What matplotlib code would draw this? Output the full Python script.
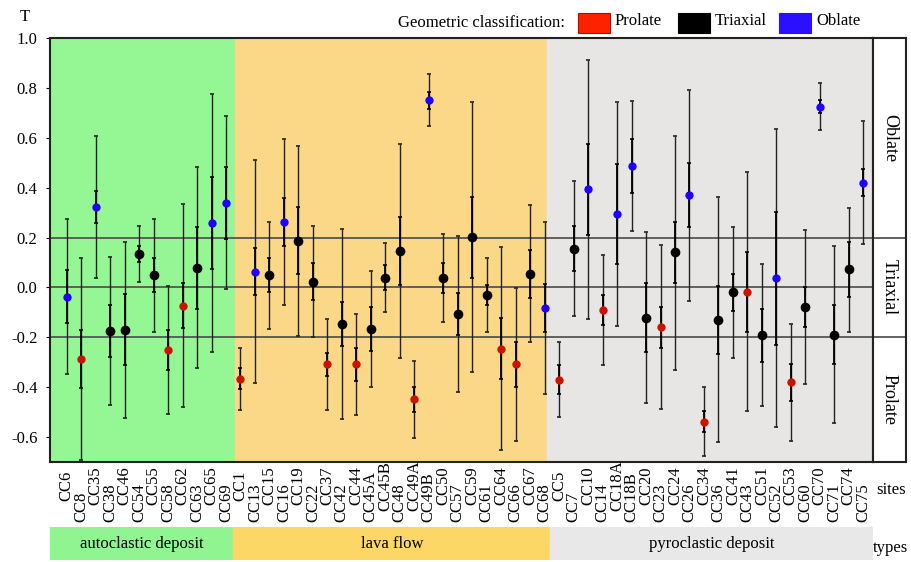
import numpy as np
import matplotlib
matplotlib.use("Agg")
import matplotlib.pyplot as plt
from matplotlib.patches import Rectangle

plt.rcParams['font.family'] = ['Liberation Serif', 'DejaVu Serif']

# sites, grouped by deposit type
sites_auto = ['CC6', 'CC8', 'CC35', 'CC38', 'CC46', 'CC54', 'CC55', 'CC58', 'CC62', 'CC63', 'CC65', 'CC69']
sites_lava = ['CC1', 'CC13', 'CC15', 'CC16', 'CC19', 'CC22', 'CC37', 'CC42', 'CC44', 'CC45A', 'CC45B',
              'CC48', 'CC49A', 'CC49B', 'CC50', 'CC57', 'CC59', 'CC61', 'CC64', 'CC66', 'CC67', 'CC68']
sites_pyro = ['CC5', 'CC7', 'CC10', 'CC14', 'CC18A', 'CC18B', 'CC20', 'CC23', 'CC24', 'CC26', 'CC34',
              'CC36', 'CC41', 'CC43', 'CC51', 'CC52', 'CC53', 'CC60', 'CC70', 'CC71', 'CC74', 'CC75']
sites = sites_auto + sites_lava + sites_pyro

# geometric class: P prolate, T triaxial, O oblate
cls = ['O', 'P', 'O', 'T', 'T', 'T', 'T', 'P', 'P', 'T', 'O', 'O',
       'P', 'O', 'T', 'O', 'T', 'T', 'P', 'T', 'P', 'T', 'T',
       'T', 'P', 'O', 'T', 'T', 'T', 'T', 'P', 'P', 'T', 'O',
       'P', 'T', 'O', 'P', 'O', 'O', 'T', 'P', 'T', 'O', 'P',
       'T', 'T', 'P', 'T', 'O', 'P', 'T', 'O', 'T', 'T', 'O']

# shape parameter T
t_val = [-0.037, -0.287, 0.323, -0.176, -0.171, 0.135, 0.049, -0.252, -0.073, 0.077, 0.257, 0.337,
         -0.367, 0.063, 0.048, 0.261, 0.187, 0.023, -0.308, -0.147, -0.308, -0.168, 0.039,
         0.145, -0.448, 0.752, 0.037, -0.107, 0.201, -0.031, -0.245, -0.309, 0.053, -0.083,
         -0.371, 0.156, 0.393, -0.091, 0.295, 0.488, -0.121, -0.160, 0.140, 0.369, -0.540,
         -0.129, -0.020, -0.017, -0.192, 0.037, -0.381, -0.079, 0.725, -0.189, 0.072, 0.420]

# outer confidence range
out_hi = [0.276, 0.117, 0.608, 0.120, 0.184, 0.247, 0.275, 0.004, 0.333, 0.481, 0.776, 0.687,
          -0.241, 0.511, 0.264, 0.596, 0.568, 0.245, -0.125, 0.235, -0.107, 0.065, 0.179,
          0.575, -0.295, 0.856, 0.213, 0.205, 0.743, 0.119, 0.161, -0.004, 0.329, 0.263,
          -0.219, 0.428, 0.913, 0.129, 0.745, 0.749, 0.221, 0.169, 0.609, 0.793, -0.400,
          0.361, 0.244, 0.461, 0.093, 0.637, -0.145, 0.231, 0.820, 0.165, 0.320, 0.668]
out_lo = [-0.348, -0.690, 0.037, -0.471, -0.523, 0.023, -0.177, -0.509, -0.479, -0.323, -0.259, -0.008,
          -0.491, -0.383, -0.165, -0.072, -0.195, -0.200, -0.491, -0.528, -0.511, -0.399, -0.099,
          -0.283, -0.603, 0.649, -0.139, -0.419, -0.339, -0.180, -0.651, -0.615, -0.220, -0.427,
          -0.521, -0.115, -0.125, -0.311, -0.153, 0.225, -0.463, -0.489, -0.331, -0.055, -0.677,
          -0.621, -0.284, -0.496, -0.477, -0.561, -0.617, -0.389, 0.633, -0.545, -0.179, 0.173]

# inner confidence range
in_hi = [0.068, -0.169, 0.388, -0.071, -0.025, 0.168, 0.117, -0.171, 0.016, 0.241, 0.441, 0.481,
         -0.325, 0.157, 0.117, 0.357, 0.321, 0.097, -0.261, -0.059, -0.241, -0.079, 0.089,
         0.281, -0.400, 0.785, 0.096, -0.023, 0.364, 0.008, -0.121, -0.217, 0.152, 0.013,
         -0.313, 0.245, 0.577, -0.031, 0.495, 0.595, 0.017, -0.079, 0.261, 0.497, -0.497,
         0.005, 0.053, 0.143, -0.085, 0.304, -0.307, 0.001, 0.751, -0.072, 0.183, 0.475]
in_lo = [-0.141, -0.403, 0.257, -0.280, -0.313, 0.101, -0.019, -0.333, -0.161, -0.087, 0.075, 0.196,
         -0.408, -0.032, -0.020, 0.165, 0.052, -0.051, -0.355, -0.233, -0.375, -0.255, -0.009,
         0.008, -0.499, 0.717, -0.021, -0.191, 0.039, -0.069, -0.367, -0.401, -0.043, -0.179,
         -0.428, 0.065, 0.209, -0.151, 0.095, 0.380, -0.260, -0.243, 0.019, 0.241, -0.581,
         -0.265, -0.095, -0.179, -0.299, -0.231, -0.456, -0.159, 0.700, -0.308, -0.039, 0.365]

yticks = [-0.6, -0.4, -0.2, 0.0, 0.2, 0.4, 0.6, 0.8, 1.0]

dot_col = {'P': '#c81400', 'T': 'black', 'O': '#1e00ff'}
dot_size = {'P': 6, 'T': 7, 'O': 6}
box_col = {'P': '#ff2200', 'T': 'black', 'O': '#2a10ff'}
names = {'P': 'Prolate', 'T': 'Triaxial', 'O': 'Oblate'}

W, H = 911, 562
fig = plt.figure(figsize=(W / 100, H / 100), dpi=100)

def fbox(x0, y0, x1, y1):
    # pixel box (top-left origin) -> figure fraction
    return [x0 / W, 1 - y1 / H, (x1 - x0) / W, (y1 - y0) / H]

ax = fig.add_axes(fbox(50, 38, 873, 462))
axr = fig.add_axes(fbox(873, 38, 906, 462), sharey=ax)
axb = fig.add_axes(fbox(50, 527, 873, 560), sharex=ax)

x = np.arange(len(sites))
n1, n2 = len(sites_auto), len(sites_auto) + len(sites_lava)
xl, xr = -1.15, 55.67
b1, b2 = n1 - 0.38, n2 - 0.84

ax.axvspan(xl, b1, color='#94f794', zorder=0)
ax.axvspan(b1, b2, color='#fad887', zorder=0)
ax.axvspan(b2, xr, color='#e8e6e4', zorder=0)
for yy in [0.2, 0.0, -0.2]:
    ax.axhline(yy, color='#555555', lw=1.3, zorder=1)

t_val = np.array(t_val)
out_err = [t_val - np.array(out_lo), np.array(out_hi) - t_val]
in_err = [t_val - np.array(in_lo), np.array(in_hi) - t_val]
ax.errorbar(x, t_val, yerr=out_err, fmt='none', ecolor='#222222', elinewidth=1.0,
            capsize=1.5, capthick=1.2, zorder=2)
ax.errorbar(x, t_val, yerr=in_err, fmt='none', ecolor='black', elinewidth=1.3,
            capsize=1.5, capthick=1.2, zorder=3)
for k in ['P', 'T', 'O']:
    idx = [i for i, c in enumerate(cls) if c == k]
    ax.plot(x[idx], t_val[idx], 'o', color=dot_col[k], ms=dot_size[k], mec='none', zorder=4)

ax.set_xlim(xl, xr)
ax.set_ylim(-0.7, 1.0)
ax.set_yticks(yticks)
ax.set_yticklabels(['%.1f' % v for v in yticks])
ax.tick_params(axis='y', direction='out', length=3, labelsize=12, pad=6)
ax.tick_params(axis='x', length=0, labelbottom=False)
for s in ax.spines.values():
    s.set_color('#222222')
    s.set_linewidth(1.5)

# site labels on two levels: even ones centred, odd ones end-aligned lower down
for i, s in enumerate(sites):
    if i % 2 == 0:
        ax.text(i, -24 / 424, s, transform=ax.get_xaxis_transform(), rotation=90,
                ha='center', va='center', fontsize=12)
    else:
        ax.text(i, -60 / 424, s, transform=ax.get_xaxis_transform(), rotation=90,
                ha='center', va='bottom', fontsize=12)
fig.text(876 / W, 1 - 490 / H, 'sites', fontsize=12, va='center', ha='left')
fig.text(25 / W, 1 - 17 / H, 'T', fontsize=12, va='center', ha='center')

# class strip on the right
axr.set_xlim(0, 1)
axr.axhline(0.2, color='#555555', lw=1.3)
axr.axhline(-0.2, color='#555555', lw=1.3)
axr.text(0.5, 0.6, 'Oblate', rotation=-90, ha='center', va='center', fontsize=13)
axr.text(0.5, 0.0, 'Triaxial', rotation=-90, ha='center', va='center', fontsize=13)
axr.text(0.5, -0.45, 'Prolate', rotation=-90, ha='center', va='center', fontsize=13)
axr.tick_params(left=False, labelleft=False, bottom=False, labelbottom=False)
for s in axr.spines.values():
    s.set_color('#222222')
    s.set_linewidth(1.5)

# deposit type bar
axb.axvspan(xl, n1 - 0.5, color='#90f590')
axb.axvspan(n1 - 0.5, n2 - 0.6, color='#fcd766')
axb.axvspan(n2 - 0.6, xr - 0.1, color='#e8e8e8')
axb.set_ylim(0, 1)
axb.text((xl + n1 - 0.5) / 2, 0.5, 'autoclastic deposit', ha='center', va='center', fontsize=12)
axb.text((n1 - 0.5 + n2 - 0.6) / 2, 0.5, 'lava flow', ha='center', va='center', fontsize=12)
axb.text((n2 - 0.6 + xr) / 2, 0.5, 'pyroclastic deposit', ha='center', va='center', fontsize=12)
axb.axis('off')
fig.text(873 / W, 1 - 548 / H, 'types', fontsize=12, va='center', ha='left')

# legend
fig.text(565 / W, 1 - 23 / H, 'Geometric classification:', fontsize=12, ha='right', va='center')
for k, x0 in zip(['P', 'T', 'O'], [578, 678, 779]):
    fig.patches.append(Rectangle((x0 / W, 1 - 33 / H), 32 / W, 20 / H, transform=fig.transFigure,
                                 facecolor=box_col[k], edgecolor='#aa1100' if k == 'P' else box_col[k], lw=0.8))
    fig.text((x0 + 37) / W, 1 - 21 / H, names[k], fontsize=12, ha='left', va='center')

fig.savefig('out.png', dpi=100)
